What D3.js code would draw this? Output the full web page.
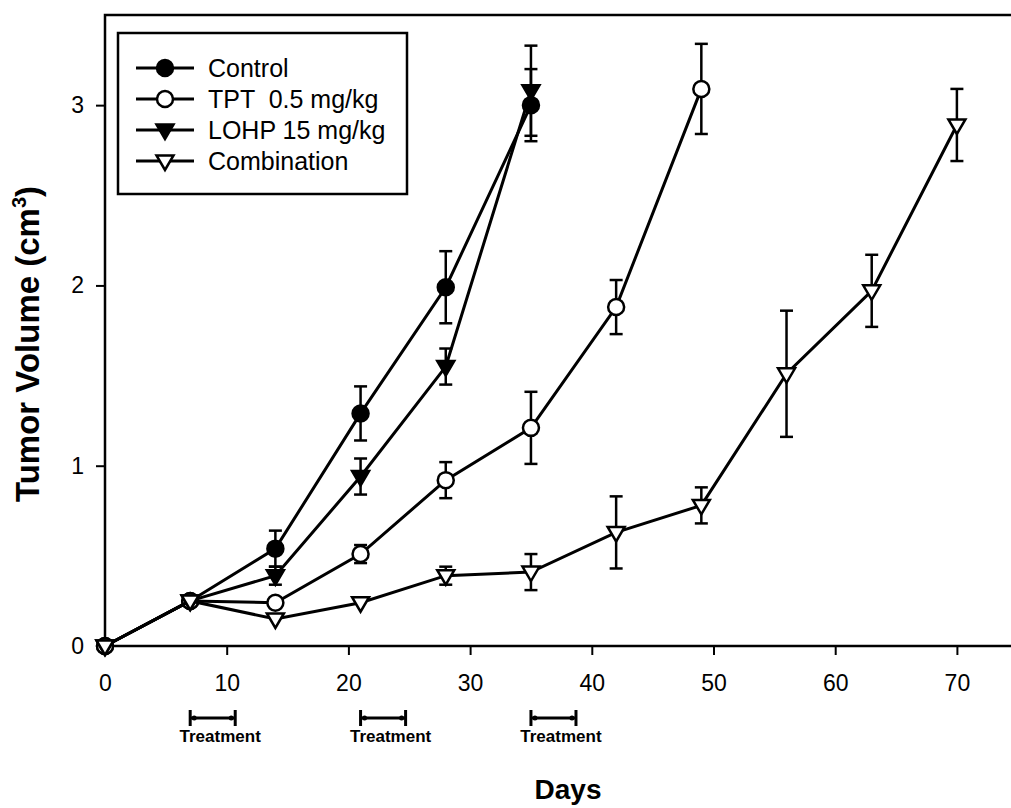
<!DOCTYPE html>
<html>
<head>
<meta charset="utf-8">
<script src="https://cdn.jsdelivr.net/npm/d3@7"></script>
<style>
  body { margin: 0; background: #fff; }
  svg { display: block; font-family: "Liberation Sans", Arial, sans-serif; }
  .tick text { font-size: 23px; fill: #000; }
  .tick line { stroke: #000; stroke-width: 2px; }
</style>
</head>
<body>
<svg width="1011" height="808"></svg>
<script>
const width = 1011;
const height = 808;

const svg = d3.select('svg');

// days of measurement
const days = [0, 7, 14, 21, 28, 35, 42, 49, 56, 63, 70];

// tumor volume (cm3) per group, with error bars
const seriesNames = ['Control', 'TPT  0.5 mg/kg', 'LOHP 15 mg/kg', 'Combination'];
const controlVals = [0, 0.25, 0.54, 1.29, 1.99, 3.0];
const controlErr = [0, 0, 0.1, 0.15, 0.2, 0.2];
const tptVals = [0, 0.25, 0.24, 0.51, 0.92, 1.21, 1.88, 3.09];
const tptErr = [0, 0, 0, 0.05, 0.1, 0.2, 0.15, 0.25];
const lohpVals = [0, 0.25, 0.39, 0.94, 1.55, 3.08];
const lohpErr = [0, 0, 0.05, 0.1, 0.1, 0.25];
const comboVals = [0, 0.25, 0.15, 0.24, 0.39, 0.41, 0.63, 0.78, 1.51, 1.97, 2.89];
const comboErr = [0, 0, 0, 0, 0.05, 0.1, 0.2, 0.1, 0.35, 0.2, 0.2];

// treatment periods (start day, end day)
const treatStart = [7, 21, 35];
const treatEnd = [10.7, 24.7, 38.7];

const xTicks = [0, 10, 20, 30, 40, 50, 60, 70];
const yTicks = [0, 1, 2, 3];

const render = () => {
    const margin = { top: 15, left: 105 };
    const pxPerDay = 12.17;
    const xMax = 75;
    const yMax = 3.5;

    const xScale = d3.scaleLinear()
        .domain([0, xMax])
        .range([margin.left, margin.left + xMax * pxPerDay]);

    const yScale = d3.scaleLinear()
        .domain([0, yMax])
        .range([646, margin.top]);

    const series = [
        { name: seriesNames[0], vals: controlVals, err: controlErr, shape: 'circle', fill: '#000' },
        { name: seriesNames[1], vals: tptVals, err: tptErr, shape: 'circle', fill: '#fff' },
        { name: seriesNames[2], vals: lohpVals, err: lohpErr, shape: 'tri', fill: '#000' },
        { name: seriesNames[3], vals: comboVals, err: comboErr, shape: 'tri', fill: '#fff' }
    ];
    series.forEach(s => {
        s.points = s.vals.map((v, i) => ({ day: days[i], v: v, e: s.err[i] }));
    });

    // frame
    svg.append('rect')
        .attr('x', xScale(0))
        .attr('y', yScale(yMax))
        .attr('width', xScale(xMax) - xScale(0))
        .attr('height', yScale(0) - yScale(yMax))
        .attr('fill', 'none')
        .attr('stroke', '#000')
        .attr('stroke-width', 2.5);

    const xAxis = d3.axisBottom(xScale)
        .tickValues(xTicks)
        .tickFormat(d3.format('d'))
        .tickSize(9)
        .tickPadding(20);

    const yAxis = d3.axisLeft(yScale)
        .tickValues(yTicks)
        .tickFormat(d3.format('d'))
        .tickSize(9)
        .tickPadding(12);

    svg.append('g')
        .attr('transform', 'translate(0,' + yScale(0) + ')')
        .call(xAxis);
    svg.append('g')
        .attr('transform', 'translate(' + xScale(0) + ',0)')
        .call(yAxis);
    svg.selectAll('.domain').remove();
    svg.selectAll('.tick text').attr('font-family', null).attr('font-size', null);

    // axis titles
    svg.append('text')
        .attr('x', 568)
        .attr('y', 799)
        .attr('text-anchor', 'middle')
        .attr('font-size', 28)
        .attr('font-weight', 'bold')
        .text('Days');

    const yTitle = svg.append('text')
        .attr('transform', 'translate(39,344) rotate(-90)')
        .attr('text-anchor', 'middle')
        .attr('font-size', 33)
        .attr('font-weight', 'bold');
    yTitle.append('tspan').text('Tumor Volume (cm');
    yTitle.append('tspan').attr('font-size', 20).attr('dy', -13).text('3');
    yTitle.append('tspan').attr('dy', 13).text(')');

    // treatment brackets
    const treatG = svg.append('g');
    treatStart.forEach((s, i) => {
        const x0 = xScale(s), x1 = xScale(treatEnd[i]);
        const yb = 718;
        treatG.append('line')
            .attr('x1', x0).attr('x2', x1).attr('y1', yb).attr('y2', yb)
            .attr('stroke', '#000').attr('stroke-width', 3);
        [x0, x1].forEach(xx => {
            treatG.append('line')
                .attr('x1', xx).attr('x2', xx).attr('y1', yb - 8).attr('y2', yb + 8)
                .attr('stroke', '#000').attr('stroke-width', 3);
        });
        [x0 + 4, x1 - 4].forEach(xx => {
            treatG.append('circle')
                .attr('cx', xx).attr('cy', yb).attr('r', 2.5).attr('fill', '#000');
        });
        treatG.append('text')
            .attr('x', x0 + 30)
            .attr('y', 742)
            .attr('text-anchor', 'middle')
            .attr('font-size', 17)
            .attr('font-weight', 'bold')
            .text('Treatment');
    });

    const line = d3.line()
        .x(d => xScale(d.day))
        .y(d => yScale(d.v));

    const triPath = 'M-8.5,-5.5L8.5,-5.5L0,9Z';

    const drawMarker = (sel, s) => {
        if (s.shape === 'circle') {
            sel.append('circle')
                .attr('r', 8)
                .attr('fill', s.fill)
                .attr('stroke', '#000')
                .attr('stroke-width', 2.5);
        } else {
            sel.append('path')
                .attr('d', triPath)
                .attr('fill', s.fill)
                .attr('stroke', '#000')
                .attr('stroke-width', 2.5)
                .attr('stroke-linejoin', 'miter');
        }
    };

    const plotG = svg.append('g');
    series.forEach(s => {
        const g = plotG.append('g');
        g.append('path')
            .datum(s.points)
            .attr('d', line)
            .attr('fill', 'none')
            .attr('stroke', '#000')
            .attr('stroke-width', 3);

        const eb = g.selectAll('.err')
            .data(s.points.filter(d => d.e > 0))
            .enter().append('g');
        eb.append('line')
            .attr('x1', d => xScale(d.day)).attr('x2', d => xScale(d.day))
            .attr('y1', d => yScale(d.v - d.e)).attr('y2', d => yScale(d.v + d.e))
            .attr('stroke', '#000').attr('stroke-width', 2.5);
        [-1, 1].forEach(sign => {
            eb.append('line')
                .attr('x1', d => xScale(d.day) - 6.5).attr('x2', d => xScale(d.day) + 6.5)
                .attr('y1', d => yScale(d.v + sign * d.e)).attr('y2', d => yScale(d.v + sign * d.e))
                .attr('stroke', '#000').attr('stroke-width', 2.5);
        });

        const m = g.selectAll('.mark')
            .data(s.points)
            .enter().append('g')
            .attr('transform', d => 'translate(' + xScale(d.day) + ',' + yScale(d.v) + ')');
        drawMarker(m, s);
    });

    // legend
    const legend = svg.append('g');
    legend.append('rect')
        .attr('x', 118).attr('y', 33)
        .attr('width', 289).attr('height', 161)
        .attr('fill', '#fff')
        .attr('stroke', '#000')
        .attr('stroke-width', 2.5);
    series.forEach((s, i) => {
        const yy = 68 + i * 31;
        legend.append('line')
            .attr('x1', 136).attr('x2', 194).attr('y1', yy).attr('y2', yy)
            .attr('stroke', '#000').attr('stroke-width', 3);
        const mg = legend.append('g').attr('transform', 'translate(165,' + yy + ')');
        drawMarker(mg, s);
        legend.append('text')
            .attr('x', 208)
            .attr('y', yy + 8.5)
            .attr('font-size', 25)
            .style('white-space', 'pre')
            .text(s.name);
    });
};

render();
</script>
</body>
</html>
